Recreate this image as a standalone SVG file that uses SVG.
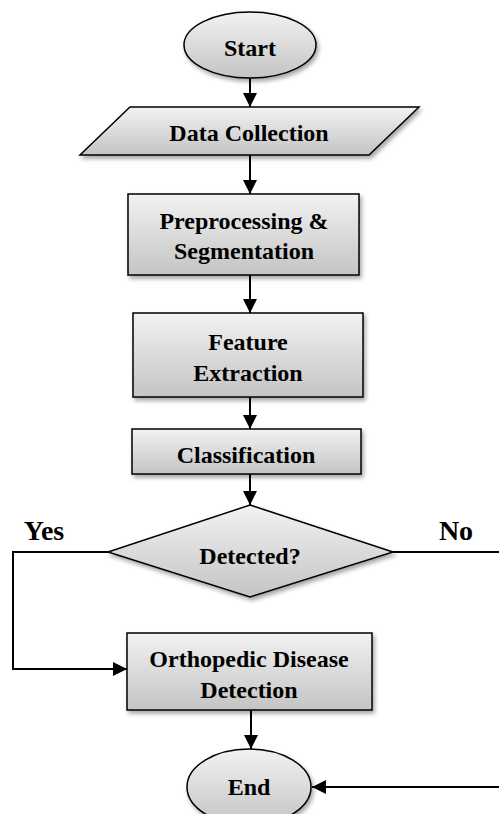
<svg xmlns="http://www.w3.org/2000/svg" width="499" height="814" viewBox="0 0 499 814">
<defs>
<linearGradient id="g" x1="0" y1="0" x2="0" y2="1">
<stop offset="0" stop-color="#f2f2f2"/>
<stop offset="1" stop-color="#c4c4c4"/>
</linearGradient>
<filter id="sh" x="-10%" y="-10%" width="125%" height="135%">
<feDropShadow dx="2" dy="3" stdDeviation="2" flood-color="#000" flood-opacity="0.35"/>
</filter>
<marker id="ah" viewBox="0 0 14 14" refX="14" refY="7" markerWidth="14" markerHeight="14" markerUnits="userSpaceOnUse" orient="auto">
<path d="M0,0 L14,7 L0,14 Z" fill="#000"/>
</marker>
</defs>
<style>
.n{fill:url(#g);stroke:#000;stroke-width:1.5;filter:url(#sh)}
.t{font-family:"Liberation Serif","Times New Roman",serif;font-weight:bold;font-size:24px;fill:#000;text-anchor:middle}
.yn{font-family:"Liberation Serif","Times New Roman",serif;font-weight:bold;font-size:28px;fill:#000;text-anchor:middle}
.c{fill:none;stroke:#000;stroke-width:2}
</style>
<rect width="499" height="814" fill="#fff"/>
<g id="connectors">
<path class="c" d="M250,78 V107" marker-end="url(#ah)"/>
<path class="c" d="M250,155 V194" marker-end="url(#ah)"/>
<path class="c" d="M250,275 V313" marker-end="url(#ah)"/>
<path class="c" d="M250,397 V429" marker-end="url(#ah)"/>
<path class="c" d="M250,474 V505" marker-end="url(#ah)"/>
<path class="c" d="M108,552 H13 V669 H127" marker-end="url(#ah)"/>
<path class="c" d="M393,552 H501 V787 H312" marker-end="url(#ah)"/>
<path class="c" d="M251,710 V749" marker-end="url(#ah)"/>
</g>
<g id="start">
<ellipse class="n" cx="250" cy="45" rx="66" ry="33"/>
<text class="t" x="250" y="56">Start</text>
</g>
<g id="data-collection">
<polygon class="n" points="130,107 419,107 369,155 80,155"/>
<text class="t" x="249" y="141">Data Collection</text>
</g>
<g id="preprocessing">
<rect class="n" x="128" y="194" width="231" height="81"/>
<text class="t" x="244" y="229">Preprocessing &amp;</text>
<text class="t" x="244" y="259">Segmentation</text>
</g>
<g id="feature-extraction">
<rect class="n" x="133" y="313" width="230" height="84"/>
<text class="t" x="248" y="350">Feature</text>
<text class="t" x="248" y="381">Extraction</text>
</g>
<g id="classification">
<rect class="n" x="132" y="429" width="229" height="45"/>
<text class="t" x="246" y="463">Classification</text>
</g>
<g id="detected">
<polygon class="n" points="250,505 393,552 250,597 108,552"/>
<text class="t" x="250" y="564">Detected?</text>
</g>
<text class="yn" x="44" y="540">Yes</text>
<text class="yn" x="456" y="540">No</text>
<g id="orthopedic">
<rect class="n" x="127" y="633" width="245" height="77"/>
<text class="t" x="249" y="667">Orthopedic Disease</text>
<text class="t" x="249" y="698">Detection</text>
</g>
<g id="end">
<ellipse class="n" cx="249" cy="787" rx="62" ry="38"/>
<text class="t" x="249" y="795">End</text>
</g>
</svg>
